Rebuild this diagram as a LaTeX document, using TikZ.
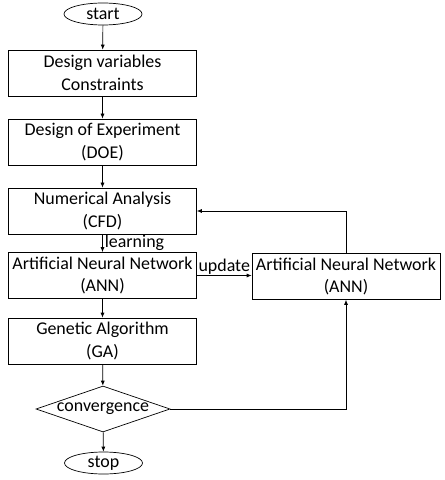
\documentclass[tikz,border=0pt]{standalone}
\usepackage{fontspec}
\setmainfont{Carlito}
\usetikzlibrary{arrows.meta, shapes.geometric}
\tikzset{every picture/.append style={x=1bp, y=1bp, line width=.7bp}}
\tikzset{
    block/.style={rectangle, draw, minimum width=188bp, minimum height=46bp,
    	inner sep=0pt, align=center},
    term/.style={ellipse, draw, minimum width=78bp, minimum height=22bp,
    	inner sep=0pt},
    decide/.style={diamond, draw, minimum width=134bp, minimum height=46bp,
    	inner sep=0pt, aspect=2.9},
    arr/.style={-{Latex[length=5bp, width=4bp]}},
    every node/.append style={font=\fontsize{18}{23}\selectfont}
}

\begin{document}
\begin{tikzpicture}
  \useasboundingbox (0,0) rectangle (445,-480);

  \node (start) [term] at (103, -14) {start};
  \node (dv) [block] at (102.5, -73) {Design variables\\Constraints};
  \node (doe) [block] at (102.5, -142) {Design of Experiment\\(DOE)};
  \node (cfd) [block] at (102.5, -211) {Numerical Analysis\\(CFD)};
  \node (ann) [block] at (102.5, -275.5) {Artificial Neural Network\\(ANN)};
  \node (ga) [block] at (102.5, -341) {Genetic Algorithm\\(GA)};
  \node (conv) [decide] at (103, -409) {convergence};
  \node (stop) [term] at (103.5, -463) {stop};
  \node (ann2) [block] at (346, -276.5) {Artificial Neural Network\\(ANN)};

  \draw[arr] (start) edge (dv); \draw[arr] (dv) edge (doe);
  \draw[arr] (doe) edge (cfd); \draw[arr] (ann) edge (ga);
  \draw[arr] (ga) edge (conv); \draw[arr] (conv) edge (stop);
  \draw[arr] (cfd) -- node[right, inner sep=2bp] {learning} (ann);
  \draw[arr] (ann) -- node[above, inner sep=1bp] {update} (ann.east -| ann2.west);
  \draw[arr] (ann2) |- (cfd);
  \draw[arr] (conv) -| (ann2);

\end{tikzpicture}
\end{document}
